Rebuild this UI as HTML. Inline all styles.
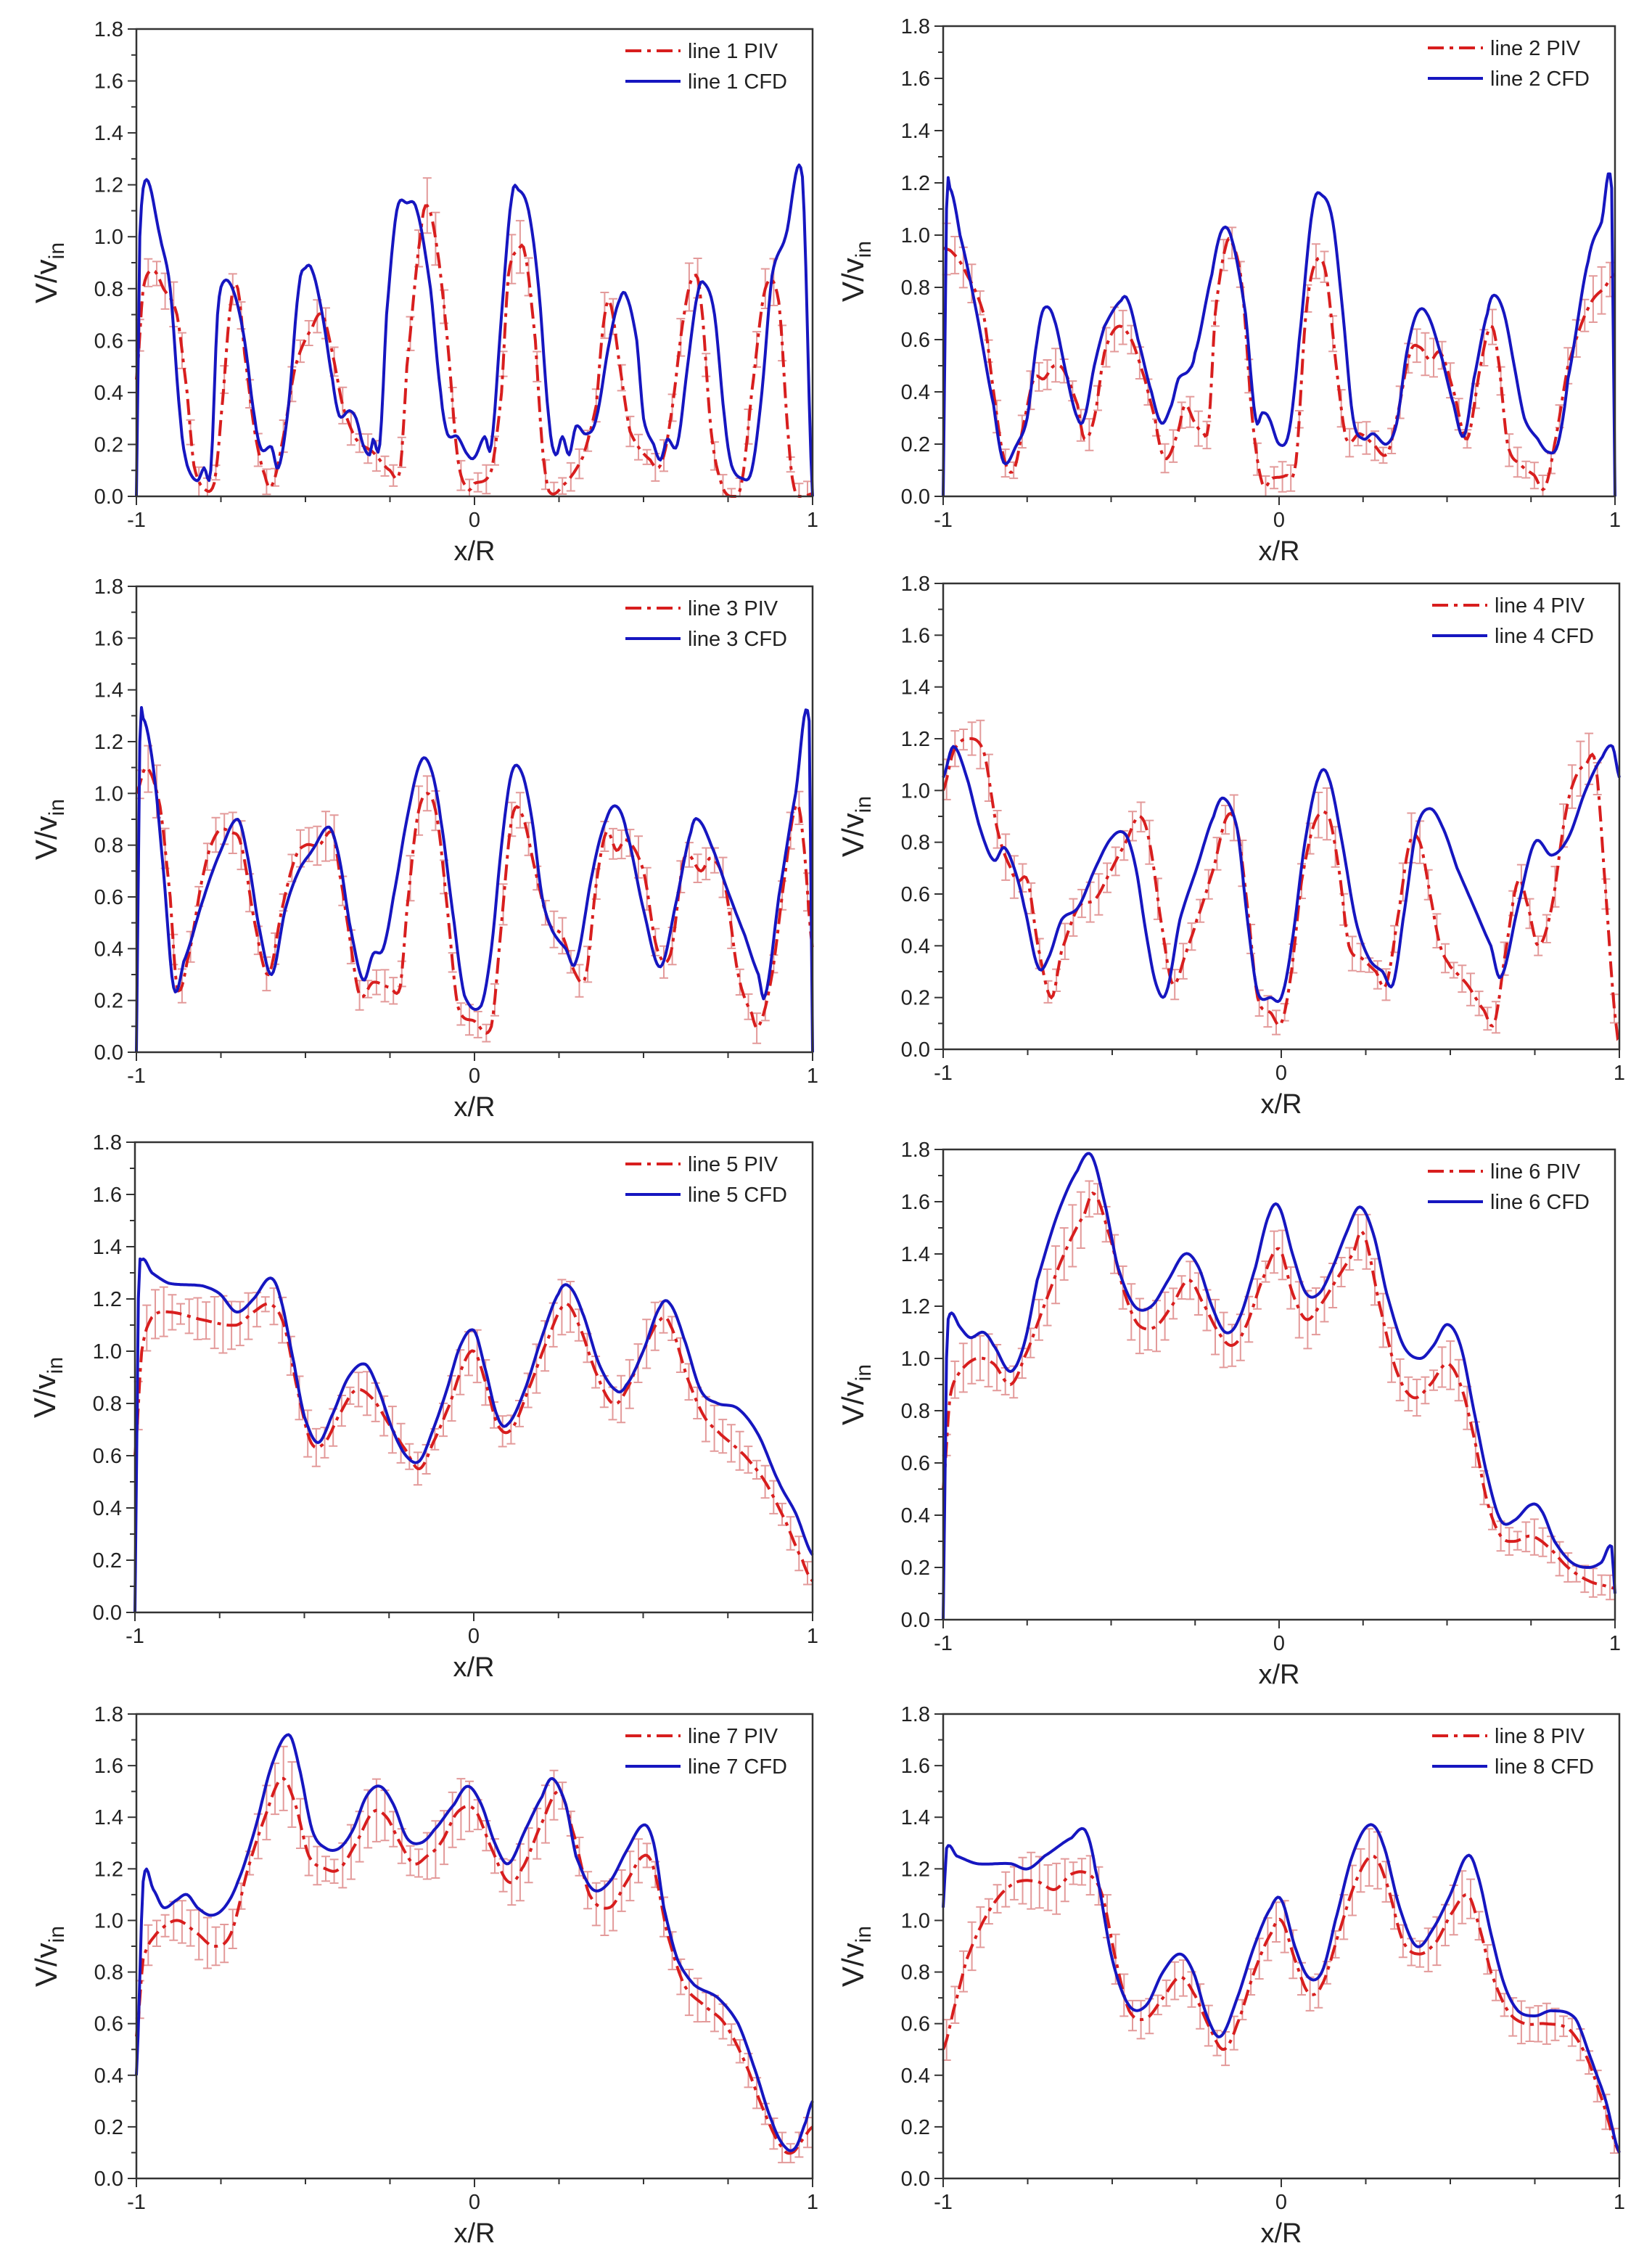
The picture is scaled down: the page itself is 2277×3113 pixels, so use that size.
<!DOCTYPE html>
<html><head><meta charset="utf-8"><style>
html,body{margin:0;padding:0;background:#fff;}
svg{display:block;}
text{font-family:"Liberation Sans",sans-serif;fill:#222;}
</style></head><body>
<svg id="s" width="2277" height="3113" xmlns="http://www.w3.org/2000/svg"></svg>
<script>
var P=[
{L:188,R:1120,T:40,B:684,n:1,
cfd:[[-1,0],[-0.99,1.0],[-0.97,1.22],[-0.93,1.0],[-0.9,0.8],[-0.87,0.3],[-0.85,0.12],[-0.82,0.06],[-0.8,0.11],[-0.78,0.1],[-0.76,0.7],[-0.74,0.83],[-0.71,0.78],[-0.68,0.6],[-0.65,0.3],[-0.63,0.18],[-0.6,0.19],[-0.58,0.11],[-0.55,0.35],[-0.52,0.8],[-0.5,0.88],[-0.48,0.87],[-0.45,0.7],[-0.42,0.45],[-0.4,0.31],[-0.37,0.33],[-0.35,0.3],[-0.33,0.2],[-0.31,0.16],[-0.3,0.22],[-0.28,0.2],[-0.26,0.7],[-0.23,1.1],[-0.2,1.13],[-0.17,1.1],[-0.13,0.8],[-0.1,0.4],[-0.08,0.24],[-0.05,0.23],[-0.02,0.16],[0,0.15],[0.03,0.23],[0.05,0.2],[0.08,0.7],[0.11,1.15],[0.13,1.18],[0.16,1.1],[0.19,0.8],[0.22,0.3],[0.24,0.16],[0.26,0.23],[0.28,0.16],[0.3,0.27],[0.33,0.24],[0.36,0.3],[0.4,0.6],[0.43,0.76],[0.45,0.77],[0.48,0.6],[0.5,0.3],[0.53,0.2],[0.55,0.14],[0.57,0.22],[0.6,0.2],[0.63,0.5],[0.66,0.78],[0.68,0.82],[0.71,0.7],[0.74,0.3],[0.76,0.12],[0.79,0.07],[0.82,0.1],[0.85,0.4],[0.88,0.85],[0.92,1.0],[0.97,1.23],[1,0.0]],
piv:[[-1,0.45],[-0.98,0.8],[-0.95,0.87],[-0.92,0.8],[-0.88,0.7],[-0.85,0.4],[-0.83,0.12],[-0.8,0.03],[-0.77,0.05],[-0.75,0.3],[-0.72,0.75],[-0.7,0.8],[-0.68,0.55],[-0.65,0.25],[-0.62,0.08],[-0.6,0.04],[-0.57,0.2],[-0.53,0.5],[-0.48,0.65],[-0.45,0.7],[-0.42,0.55],[-0.39,0.35],[-0.35,0.22],[-0.3,0.17],[-0.25,0.1],[-0.22,0.1],[-0.2,0.5],[-0.16,1.0],[-0.14,1.12],[-0.11,0.95],[-0.08,0.6],[-0.05,0.15],[-0.02,0.03],[0,0.05],[0.05,0.1],[0.08,0.4],[0.1,0.85],[0.13,0.95],[0.15,0.93],[0.18,0.6],[0.2,0.2],[0.22,0.02],[0.26,0.04],[0.32,0.15],[0.36,0.35],[0.38,0.65],[0.4,0.75],[0.43,0.5],[0.46,0.25],[0.52,0.14],[0.55,0.12],[0.58,0.3],[0.62,0.7],[0.65,0.85],[0.67,0.75],[0.7,0.25],[0.73,0.05],[0.76,0.0],[0.79,0.05],[0.82,0.4],[0.86,0.8],[0.9,0.75],[0.93,0.2],[0.95,0.01],[1,0.01]]},
{L:1300,R:2226,T:36,B:684,n:2,
cfd:[[-1,0],[-0.99,1.1],[-0.98,1.18],[-0.95,1.0],[-0.9,0.7],[-0.85,0.35],[-0.82,0.13],[-0.78,0.2],[-0.75,0.3],[-0.72,0.6],[-0.7,0.72],[-0.67,0.68],[-0.63,0.45],[-0.6,0.3],[-0.58,0.3],[-0.55,0.5],[-0.52,0.65],[-0.47,0.75],[-0.45,0.75],[-0.42,0.6],[-0.38,0.4],[-0.35,0.28],[-0.32,0.35],[-0.3,0.45],[-0.27,0.48],[-0.25,0.55],[-0.2,0.85],[-0.17,1.02],[-0.14,0.98],[-0.1,0.7],[-0.07,0.3],[-0.05,0.32],[-0.03,0.3],[0,0.2],[0.03,0.25],[0.06,0.6],[0.1,1.1],[0.13,1.15],[0.16,1.05],[0.19,0.7],[0.22,0.3],[0.25,0.22],[0.28,0.24],[0.32,0.2],[0.35,0.28],[0.38,0.55],[0.41,0.7],[0.44,0.7],[0.48,0.55],[0.52,0.35],[0.55,0.23],[0.58,0.45],[0.62,0.7],[0.64,0.77],[0.67,0.7],[0.7,0.5],[0.73,0.3],[0.77,0.22],[0.8,0.17],[0.83,0.2],[0.86,0.45],[0.92,0.9],[0.96,1.05],[0.99,1.18],[1,0]],
piv:[[-1,0.95],[-0.97,0.93],[-0.93,0.85],[-0.88,0.7],[-0.85,0.4],[-0.82,0.15],[-0.79,0.1],[-0.76,0.28],[-0.73,0.45],[-0.7,0.45],[-0.67,0.5],[-0.64,0.48],[-0.6,0.35],[-0.58,0.22],[-0.55,0.3],[-0.52,0.55],[-0.48,0.65],[-0.44,0.6],[-0.4,0.45],[-0.37,0.3],[-0.35,0.17],[-0.33,0.15],[-0.3,0.25],[-0.28,0.35],[-0.25,0.28],[-0.23,0.25],[-0.21,0.27],[-0.19,0.7],[-0.16,0.95],[-0.14,0.97],[-0.11,0.8],[-0.08,0.3],[-0.05,0.05],[-0.02,0.07],[0.02,0.08],[0.05,0.13],[0.08,0.7],[0.11,0.9],[0.14,0.85],[0.17,0.5],[0.2,0.22],[0.24,0.24],[0.28,0.2],[0.32,0.16],[0.35,0.3],[0.39,0.55],[0.42,0.57],[0.45,0.52],[0.48,0.55],[0.52,0.4],[0.56,0.22],[0.6,0.5],[0.63,0.65],[0.65,0.55],[0.68,0.2],[0.72,0.12],[0.76,0.08],[0.79,0.03],[0.82,0.2],[0.86,0.5],[0.92,0.72],[0.97,0.8],[1,0.85]]},
{L:188,R:1120,T:808,B:1450,n:3,
cfd:[[-1,0],[-0.99,1.2],[-0.98,1.29],[-0.95,1.1],[-0.92,0.7],[-0.89,0.25],[-0.86,0.35],[-0.8,0.6],[-0.75,0.78],[-0.7,0.9],[-0.67,0.75],[-0.64,0.5],[-0.6,0.3],[-0.56,0.55],[-0.52,0.7],[-0.48,0.78],[-0.43,0.87],[-0.4,0.75],[-0.37,0.5],[-0.33,0.28],[-0.3,0.38],[-0.27,0.4],[-0.24,0.6],[-0.2,0.9],[-0.16,1.12],[-0.13,1.1],[-0.1,0.9],[-0.06,0.5],[-0.03,0.22],[0.02,0.18],[0.05,0.4],[0.08,0.8],[0.11,1.08],[0.14,1.08],[0.17,0.9],[0.2,0.6],[0.23,0.47],[0.27,0.4],[0.3,0.35],[0.35,0.7],[0.39,0.9],[0.42,0.95],[0.45,0.85],[0.5,0.55],[0.55,0.33],[0.6,0.6],[0.64,0.85],[0.66,0.9],[0.7,0.8],[0.75,0.62],[0.8,0.45],[0.84,0.3],[0.86,0.22],[0.9,0.6],[0.95,1.0],[0.99,1.28],[1,0]],
piv:[[-1,1.0],[-0.97,1.1],[-0.93,0.95],[-0.9,0.6],[-0.88,0.25],[-0.85,0.35],[-0.8,0.7],[-0.76,0.85],[-0.72,0.85],[-0.69,0.8],[-0.65,0.5],[-0.61,0.3],[-0.57,0.55],[-0.53,0.75],[-0.5,0.8],[-0.46,0.8],[-0.42,0.85],[-0.4,0.7],[-0.37,0.45],[-0.34,0.22],[-0.3,0.27],[-0.25,0.25],[-0.22,0.25],[-0.2,0.55],[-0.17,0.9],[-0.14,1.0],[-0.11,0.9],[-0.08,0.55],[-0.05,0.18],[0,0.12],[0.05,0.1],[0.08,0.5],[0.11,0.9],[0.14,0.92],[0.18,0.7],[0.22,0.5],[0.26,0.45],[0.3,0.3],[0.33,0.3],[0.36,0.65],[0.39,0.85],[0.42,0.78],[0.45,0.82],[0.5,0.7],[0.54,0.4],[0.58,0.38],[0.62,0.75],[0.67,0.7],[0.7,0.75],[0.74,0.65],[0.78,0.3],[0.82,0.15],[0.84,0.1],[0.88,0.3],[0.92,0.7],[0.95,0.95],[0.97,0.85],[1,0.4]]},
{L:1300,R:2232,T:804,B:1446,n:4,
cfd:[[-1,1.05],[-0.97,1.17],[-0.93,1.05],[-0.89,0.85],[-0.85,0.73],[-0.82,0.78],[-0.79,0.7],[-0.76,0.55],[-0.72,0.32],[-0.69,0.35],[-0.65,0.5],[-0.6,0.55],[-0.55,0.7],[-0.5,0.82],[-0.46,0.83],[-0.43,0.7],[-0.4,0.45],[-0.37,0.25],[-0.34,0.22],[-0.3,0.5],[-0.25,0.7],[-0.2,0.9],[-0.17,0.97],[-0.13,0.85],[-0.1,0.5],[-0.07,0.22],[-0.03,0.2],[0,0.2],[0.03,0.4],[0.07,0.8],[0.11,1.05],[0.14,1.05],[0.18,0.8],[0.22,0.5],[0.26,0.35],[0.3,0.3],[0.33,0.25],[0.36,0.5],[0.4,0.85],[0.44,0.93],[0.48,0.85],[0.52,0.7],[0.57,0.55],[0.62,0.4],[0.65,0.28],[0.7,0.55],[0.75,0.8],[0.8,0.75],[0.85,0.82],[0.9,1.0],[0.95,1.13],[0.98,1.17],[1,1.05]],
piv:[[-1,1.0],[-0.97,1.15],[-0.93,1.2],[-0.88,1.15],[-0.84,0.85],[-0.8,0.7],[-0.78,0.65],[-0.75,0.65],[-0.72,0.4],[-0.68,0.2],[-0.65,0.38],[-0.6,0.55],[-0.55,0.58],[-0.5,0.7],[-0.46,0.8],[-0.42,0.9],[-0.39,0.8],[-0.35,0.45],[-0.32,0.25],[-0.28,0.38],[-0.25,0.5],[-0.2,0.7],[-0.16,0.9],[-0.13,0.85],[-0.1,0.55],[-0.07,0.2],[-0.03,0.14],[0,0.1],[0.03,0.3],[0.06,0.65],[0.1,0.88],[0.14,0.9],[0.17,0.7],[0.2,0.4],[0.24,0.35],[0.28,0.3],[0.31,0.25],[0.35,0.55],[0.38,0.8],[0.41,0.8],[0.44,0.6],[0.47,0.4],[0.5,0.32],[0.55,0.25],[0.6,0.15],[0.63,0.1],[0.66,0.35],[0.7,0.65],[0.73,0.55],[0.76,0.4],[0.8,0.55],[0.84,0.9],[0.87,1.05],[0.9,1.1],[0.93,1.1],[0.96,0.6],[0.99,0.1],[1,0.05]]},
{L:186,R:1120,T:1574,B:2222,n:5,
cfd:[[-1,0],[-0.99,1.2],[-0.98,1.35],[-0.95,1.3],[-0.9,1.26],[-0.8,1.25],[-0.75,1.22],[-0.7,1.15],[-0.65,1.2],[-0.6,1.28],[-0.57,1.2],[-0.53,0.95],[-0.5,0.75],[-0.46,0.65],[-0.42,0.75],[-0.37,0.9],[-0.32,0.95],[-0.28,0.85],[-0.24,0.7],[-0.2,0.6],[-0.16,0.58],[-0.12,0.7],[-0.08,0.85],[-0.04,1.02],[0,1.08],[0.03,0.95],[0.07,0.75],[0.1,0.72],[0.15,0.85],[0.2,1.05],[0.25,1.22],[0.28,1.25],[0.32,1.15],[0.37,0.95],[0.42,0.85],[0.45,0.87],[0.5,1.0],[0.55,1.17],[0.58,1.18],[0.62,1.05],[0.67,0.85],[0.72,0.8],[0.78,0.78],[0.84,0.68],[0.9,0.5],[0.95,0.38],[1,0.22]],
piv:[[-1,0.6],[-0.98,1.0],[-0.95,1.13],[-0.9,1.15],[-0.8,1.12],[-0.7,1.1],[-0.65,1.15],[-0.6,1.18],[-0.56,1.1],[-0.52,0.85],[-0.48,0.65],[-0.44,0.65],[-0.4,0.75],[-0.35,0.85],[-0.3,0.82],[-0.25,0.72],[-0.2,0.62],[-0.16,0.55],[-0.12,0.65],[-0.07,0.8],[-0.03,0.95],[0,1.0],[0.03,0.9],[0.07,0.72],[0.11,0.7],[0.16,0.85],[0.22,1.05],[0.27,1.18],[0.31,1.1],[0.36,0.92],[0.41,0.8],[0.45,0.85],[0.5,1.0],[0.55,1.12],[0.58,1.1],[0.63,0.9],[0.68,0.75],[0.73,0.68],[0.8,0.6],[0.86,0.5],[0.92,0.35],[0.97,0.2],[1,0.12]]},
{L:1300,R:2226,T:1584,B:2232,n:6,
cfd:[[-1,0],[-0.99,1.0],[-0.98,1.17],[-0.95,1.12],[-0.92,1.08],[-0.88,1.1],[-0.85,1.05],[-0.8,0.95],[-0.76,1.05],[-0.72,1.3],[-0.66,1.55],[-0.6,1.72],[-0.56,1.78],[-0.52,1.6],[-0.48,1.35],[-0.43,1.2],[-0.38,1.2],[-0.33,1.3],[-0.28,1.4],[-0.24,1.35],[-0.2,1.2],[-0.16,1.1],[-0.12,1.15],[-0.07,1.35],[-0.03,1.55],[0,1.58],[0.04,1.4],[0.08,1.25],[0.12,1.25],[0.16,1.35],[0.2,1.48],[0.24,1.58],[0.28,1.48],[0.32,1.25],[0.37,1.05],[0.42,1.0],[0.46,1.05],[0.5,1.13],[0.54,1.05],[0.58,0.8],[0.62,0.55],[0.66,0.38],[0.7,0.38],[0.75,0.44],[0.78,0.42],[0.82,0.3],[0.87,0.22],[0.92,0.2],[0.96,0.22],[0.99,0.28],[1,0.1]],
piv:[[-1,0.5],[-0.98,0.85],[-0.95,0.95],[-0.9,1.0],[-0.85,0.98],[-0.8,0.9],[-0.76,1.0],[-0.7,1.2],[-0.64,1.4],[-0.58,1.55],[-0.55,1.63],[-0.5,1.45],[-0.46,1.25],[-0.42,1.13],[-0.37,1.12],[-0.32,1.2],[-0.27,1.3],[-0.23,1.22],[-0.18,1.1],[-0.14,1.05],[-0.1,1.12],[-0.05,1.3],[0,1.42],[0.04,1.25],[0.08,1.15],[0.12,1.2],[0.17,1.3],[0.22,1.4],[0.25,1.48],[0.3,1.2],[0.35,0.95],[0.4,0.85],[0.45,0.9],[0.5,0.98],[0.54,0.9],[0.58,0.7],[0.62,0.45],[0.66,0.32],[0.7,0.3],[0.75,0.32],[0.8,0.28],[0.86,0.2],[0.92,0.15],[0.97,0.13],[1,0.12]]},
{L:188,R:1120,T:2362,B:3002,n:7,
cfd:[[-1,0.4],[-0.98,1.15],[-0.95,1.12],[-0.92,1.05],[-0.88,1.08],[-0.85,1.1],[-0.82,1.05],[-0.78,1.02],[-0.74,1.05],[-0.7,1.15],[-0.65,1.35],[-0.6,1.6],[-0.55,1.72],[-0.52,1.6],[-0.48,1.35],[-0.44,1.28],[-0.4,1.28],[-0.36,1.35],[-0.32,1.48],[-0.28,1.52],[-0.24,1.45],[-0.2,1.32],[-0.16,1.3],[-0.12,1.35],[-0.06,1.45],[-0.02,1.52],[0.02,1.45],[0.06,1.3],[0.1,1.22],[0.15,1.35],[0.2,1.48],[0.23,1.55],[0.27,1.45],[0.3,1.25],[0.35,1.12],[0.4,1.15],[0.45,1.27],[0.5,1.37],[0.53,1.3],[0.56,1.05],[0.6,0.85],[0.65,0.75],[0.72,0.7],[0.78,0.6],[0.83,0.42],[0.88,0.22],[0.92,0.12],[0.95,0.12],[0.98,0.22],[1,0.3]],
piv:[[-1,0.55],[-0.98,0.85],[-0.94,0.95],[-0.88,1.0],[-0.82,0.95],[-0.77,0.9],[-0.72,0.95],[-0.67,1.2],[-0.62,1.4],[-0.57,1.55],[-0.53,1.45],[-0.49,1.25],[-0.44,1.2],[-0.4,1.2],[-0.35,1.3],[-0.3,1.42],[-0.26,1.4],[-0.22,1.3],[-0.18,1.22],[-0.14,1.25],[-0.1,1.3],[-0.05,1.42],[0,1.43],[0.05,1.28],[0.1,1.15],[0.14,1.2],[0.2,1.38],[0.25,1.5],[0.29,1.35],[0.34,1.1],[0.4,1.05],[0.45,1.15],[0.5,1.25],[0.53,1.2],[0.57,0.95],[0.62,0.75],[0.68,0.67],[0.74,0.6],[0.8,0.45],[0.86,0.25],[0.91,0.12],[0.94,0.1],[0.97,0.15],[1,0.2]]},
{L:1300,R:2232,T:2362,B:3002,n:8,
cfd:[[-1,1.05],[-0.99,1.28],[-0.96,1.25],[-0.9,1.22],[-0.8,1.22],[-0.75,1.2],[-0.7,1.25],[-0.62,1.32],[-0.58,1.35],[-0.55,1.2],[-0.5,0.85],[-0.45,0.67],[-0.4,0.67],[-0.35,0.8],[-0.3,0.87],[-0.26,0.8],[-0.22,0.63],[-0.18,0.55],[-0.13,0.7],[-0.08,0.9],[-0.03,1.05],[0,1.08],[0.04,0.9],[0.08,0.78],[0.12,0.8],[0.16,1.0],[0.21,1.25],[0.26,1.37],[0.3,1.3],[0.35,1.05],[0.4,0.9],[0.45,0.97],[0.5,1.1],[0.55,1.25],[0.58,1.18],[0.62,0.95],[0.66,0.75],[0.7,0.65],[0.75,0.63],[0.8,0.65],[0.87,0.62],[0.92,0.45],[0.96,0.3],[1,0.1]],
piv:[[-1,0.5],[-0.97,0.65],[-0.93,0.85],[-0.88,1.0],[-0.83,1.1],[-0.78,1.15],[-0.72,1.15],[-0.67,1.12],[-0.62,1.18],[-0.57,1.18],[-0.53,1.1],[-0.49,0.85],[-0.45,0.65],[-0.4,0.62],[-0.35,0.7],[-0.3,0.78],[-0.26,0.72],[-0.21,0.58],[-0.17,0.5],[-0.13,0.6],[-0.08,0.8],[-0.03,0.95],[0,1.0],[0.04,0.85],[0.08,0.72],[0.12,0.75],[0.17,0.95],[0.22,1.15],[0.27,1.25],[0.31,1.15],[0.36,0.92],[0.41,0.87],[0.46,0.92],[0.5,1.02],[0.55,1.1],[0.58,1.0],[0.62,0.8],[0.67,0.65],[0.72,0.6],[0.78,0.6],[0.85,0.58],[0.9,0.48],[0.95,0.3],[1,0.1]]}
];
function interp(d,x){
  for(var i=0;i<d.length-1;i++){
    if(x>=d[i][0]&&x<=d[i+1][0]){
      var p0=d[Math.max(i-1,0)],p1=d[i],p2=d[i+1],p3=d[Math.min(i+2,d.length-1)];
      var t=(x-p1[0])/(p2[0]-p1[0]||1);
      var t2=t*t,t3=t2*t;
      var y=0.5*((2*p1[1])+(-p0[1]+p2[1])*t+(2*p0[1]-5*p1[1]+4*p2[1]-p3[1])*t2+(-p0[1]+3*p1[1]-3*p2[1]+p3[1])*t3);
      return y;
    }
  }
  return d[d.length-1][1];
}
function curve(d,X,Y){
  var s="";
  for(var k=0;k<d.length-1;k++){
    var a=d[k][0],b=d[k+1][0],n=Math.max(2,Math.round((b-a)*200));
    for(var j=0;j<=n;j++){
      var x=a+(b-a)*j/n,y=Math.max(0,Math.min(1.82,interp(d,x)));
      s+=(s?"L":"M")+X(x).toFixed(1)+","+Y(y).toFixed(1);
    }
  }
  return s;
}
var h="";
P.forEach(function(p,pi){
  var L=p.L,R=p.R,T=p.T,B=p.B;
  var X=function(x){return L+(x+1)/2*(R-L);};
  var Y=function(y){return B-y/1.8*(B-T);};
  // error bars
  var eb="";
  for(var x=-0.99;x<=0.99;x+=0.025){
    var y=interp(p.piv,x); if(y<0)y=0;
    var e=0.025+0.03*Math.abs(Math.sin(x*37+pi))+0.05*y*Math.abs(Math.sin(x*13+pi*2));
    var cx=X(x),y1=Y(y+e),y2=Y(Math.max(0,y-e));
    eb+="M"+cx.toFixed(1)+","+y1.toFixed(1)+"V"+y2.toFixed(1)+"M"+(cx-6).toFixed(1)+","+y1.toFixed(1)+"h12M"+(cx-6).toFixed(1)+","+y2.toFixed(1)+"h12";
  }
  h+='<path d="'+eb+'" stroke="#e39a9a" stroke-width="2" fill="none"/>';
  h+='<path d="'+curve(p.piv,X,Y)+'" stroke="#d81e1e" stroke-width="4" fill="none" stroke-dasharray="22,8,5,8"/>';
  h+='<path d="'+curve(p.cfd,X,Y)+'" stroke="#1616c0" stroke-width="4" fill="none" stroke-linejoin="round"/>';
  // frame
  h+='<rect x="'+L+'" y="'+T+'" width="'+(R-L)+'" height="'+(B-T)+'" fill="none" stroke="#333" stroke-width="2.5"/>';
  // y ticks
  for(var i=0;i<=18;i++){
    var yy=Y(i/10),len=(i%2==0)?12:7;
    h+='<line x1="'+(L-len)+'" x2="'+L+'" y1="'+yy+'" y2="'+yy+'" stroke="#333" stroke-width="2"/>';
    if(i%2==0) h+='<text x="'+(L-18)+'" y="'+(yy+10)+'" font-size="29" text-anchor="end">'+(i/10).toFixed(1)+'</text>';
  }
  for(var i=0;i<=8;i++){
    var xx=L+i/8*(R-L),len=(i%4==0)?12:8;
    h+='<line x1="'+xx+'" x2="'+xx+'" y1="'+B+'" y2="'+(B+len)+'" stroke="#333" stroke-width="2"/>';
  }
  [["-1",L],["0",(L+R)/2],["1",R]].forEach(function(t){
    h+='<text x="'+t[1]+'" y="'+(B+42)+'" font-size="29" text-anchor="middle">'+t[0]+'</text>';
  });
  h+='<text x="'+((L+R)/2)+'" y="'+(B+88)+'" font-size="38" text-anchor="middle">x/R</text>';
  var lx=L-110,ly=(T+B)/2+14;
  h+='<text transform="translate('+lx+','+ly+') rotate(-90)" font-size="42" text-anchor="middle">V/v<tspan font-size="30" dy="10">in</tspan></text>';
  // legend
  var gx=R-258,t1=T+30,t2=T+72;
  h+='<line x1="'+gx+'" x2="'+(gx+76)+'" y1="'+t1+'" y2="'+t1+'" stroke="#d81e1e" stroke-width="4" stroke-dasharray="22,8,5,8"/>';
  h+='<text x="'+(gx+86)+'" y="'+(t1+10)+'" font-size="29">line '+p.n+' PIV</text>';
  h+='<line x1="'+gx+'" x2="'+(gx+76)+'" y1="'+t2+'" y2="'+t2+'" stroke="#1616c0" stroke-width="4"/>';
  h+='<text x="'+(gx+86)+'" y="'+(t2+10)+'" font-size="29">line '+p.n+' CFD</text>';
});
document.getElementById("s").innerHTML=h;
</script>
</body></html>
